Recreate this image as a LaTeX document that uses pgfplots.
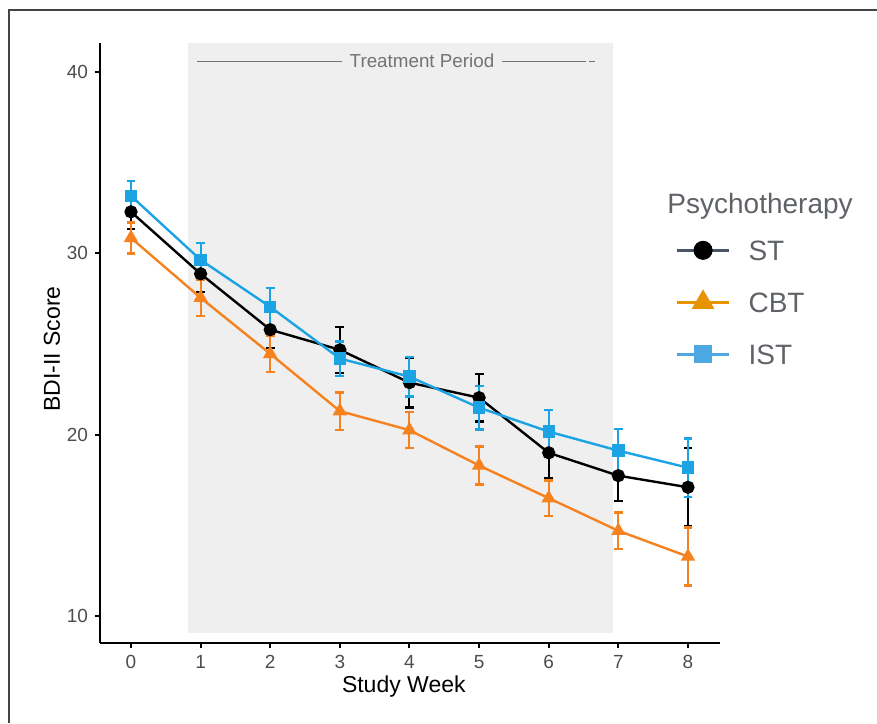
\documentclass[border=0pt]{standalone}
\usepackage{fontspec}
\setmainfont{Liberation Sans}
\usepackage{pgfplots}
\pgfplotsset{compat=1.18}

\definecolor{stcol}{HTML}{000000}
\definecolor{cbtcol}{HTML}{F5821F}
\definecolor{istcol}{HTML}{1BA3E3}
\definecolor{legst}{HTML}{4A5568}
\definecolor{legcbt}{HTML}{E69500}
\definecolor{legist}{HTML}{4BA8E0}
\definecolor{shade}{HTML}{EFEFEF}
\definecolor{ticktext}{HTML}{4D4D4D}
\definecolor{legtext}{HTML}{5F6368}
\definecolor{frame}{HTML}{444444}

% week, mean, error
\pgfplotstableread{
x y e
0 32.29 0.95
1 28.87 1.00
2 25.79 1.00
3 24.68 1.27
4 22.87 1.37
5 22.04 1.32
6 19.00 1.40
7 17.74 1.40
8 17.10 2.17
}\st
\pgfplotstableread{
x y e
0 30.85 0.85
1 27.55 1.00
2 24.46 1.00
3 21.30 1.03
4 20.25 1.00
5 18.30 1.05
6 16.50 0.97
7 14.70 1.00
8 13.28 1.60
}\cbt
\pgfplotstableread{
x y e
0 33.17 0.83
1 29.64 0.94
2 27.05 1.05
3 24.20 0.95
4 23.20 1.10
5 21.49 1.20
6 20.17 1.20
7 19.12 1.20
8 18.18 1.60
}\ist

\begin{document}
\begin{tikzpicture}
\path[use as bounding box] (-50pt,-40pt) rectangle (388.5pt,321.5pt);
\draw[frame, line width=0.9pt] (-45.5pt,-40pt) -- (-45.5pt,316.5pt) -- (388.5pt,316.5pt);
\begin{axis}[
    at={(0pt,0pt)}, anchor=south west,
    scale only axis,
    width=310pt, height=300pt,
    xmin=-0.445, xmax=8.46,
    ymin=8.512, ymax=41.6,
    axis lines=left,
    axis line style={-, line width=1pt, black},
    xtick={0,...,8},
    ytick={10,20,30,40},
    tick style={line width=1pt, black},
    major tick length=2.5pt,
    tick align=outside,
    /pgf/number format/assume math mode=true,
    ticklabel style={font=\fontsize{9.5}{11}\selectfont, text=ticktext},
    xlabel={Study Week},
    ylabel={BDI-II Score},
    label style={font=\fontsize{11.5}{13}\selectfont, text=black},
    xlabel style={at={(axis description cs:0.49,-0.0733)}, anchor=center},
    ylabel style={at={(axis description cs:-0.0774,0.49)}, anchor=center},
    clip=false,
    legend cell align=left,
    legend style={draw=none, fill=none, inner sep=0pt,
        at={(axis cs:7.816,30.74)}, anchor=north west,
        font=\fontsize{14}{16}\selectfont, text=legtext,
        nodes={inner sep=0pt, text height=10pt, text depth=0pt},
        row sep=16pt,
        /tikz/every odd column/.append style={column sep=9pt}},
    legend image code/.code={
        \draw[mark repeat=2, mark phase=2, #1]
            plot coordinates {(0pt,0pt) (13pt,0pt) (26pt,0pt)};},
]
% shaded treatment period
\addplot[fill=shade, draw=none, forget plot] coordinates
    {(0.82,9.06) (6.93,9.06) (6.93,41.6) (0.82,41.6)} -- cycle;
\addplot[gray!90!black, line width=0.5pt, forget plot] coordinates {(0.95,40.6) (3.03,40.6)};
\addplot[gray!90!black, line width=0.5pt, forget plot] coordinates {(5.33,40.6) (6.45,40.6)};
\addplot[gray!90!black, line width=0.5pt, dashed, dash pattern=on 3pt off 1.5pt, forget plot]
    coordinates {(6.45,40.6) (6.70,40.6)};
\node[text=gray!90!black, font=\fontsize{9.4}{11}\selectfont] at (axis cs:4.18,40.6) {Treatment Period};

% series
\addplot[stcol, line width=1.2pt, mark=*, mark size=2.7pt, forget plot,
    error bars/.cd, y dir=both, y explicit,
    error bar style={line width=1pt, stcol},
    error mark options={rotate=90, mark size=2.2pt, line width=1.2pt, stcol}]
    table[x=x, y=y, y error=e] {\st};
\addplot[cbtcol, line width=1.2pt, mark=triangle*, mark size=3pt, forget plot,
    error bars/.cd, y dir=both, y explicit,
    error bar style={line width=1pt, cbtcol},
    error mark options={rotate=90, mark size=2.2pt, line width=1.2pt, cbtcol}]
    table[x=x, y=y, y error=e] {\cbt};
\addplot[istcol, line width=1.2pt, mark=square*, mark size=2.5pt, forget plot,
    error bars/.cd, y dir=both, y explicit,
    error bar style={line width=1pt, istcol},
    error mark options={rotate=90, mark size=2.2pt, line width=1.2pt, istcol}]
    table[x=x, y=y, y error=e] {\ist};

% legend
\addlegendimage{legst, line width=1.5pt, mark=*, mark size=4pt, mark options={fill=black, draw=black}}
\addlegendentry{ST}
\addlegendimage{legcbt, line width=1.5pt, mark=triangle*, mark size=5pt, mark options={fill=legcbt}}
\addlegendentry{CBT}
\addlegendimage{legist, line width=1.5pt, mark=square*, mark size=3.7pt, mark options={fill=legist}}
\addlegendentry{IST}

\node[anchor=west, text=legtext, font=\fontsize{14}{16}\selectfont, inner sep=0pt]
    at (axis cs:7.7,32.6) {Psychotherapy};
\end{axis}
\end{tikzpicture}
\end{document}
